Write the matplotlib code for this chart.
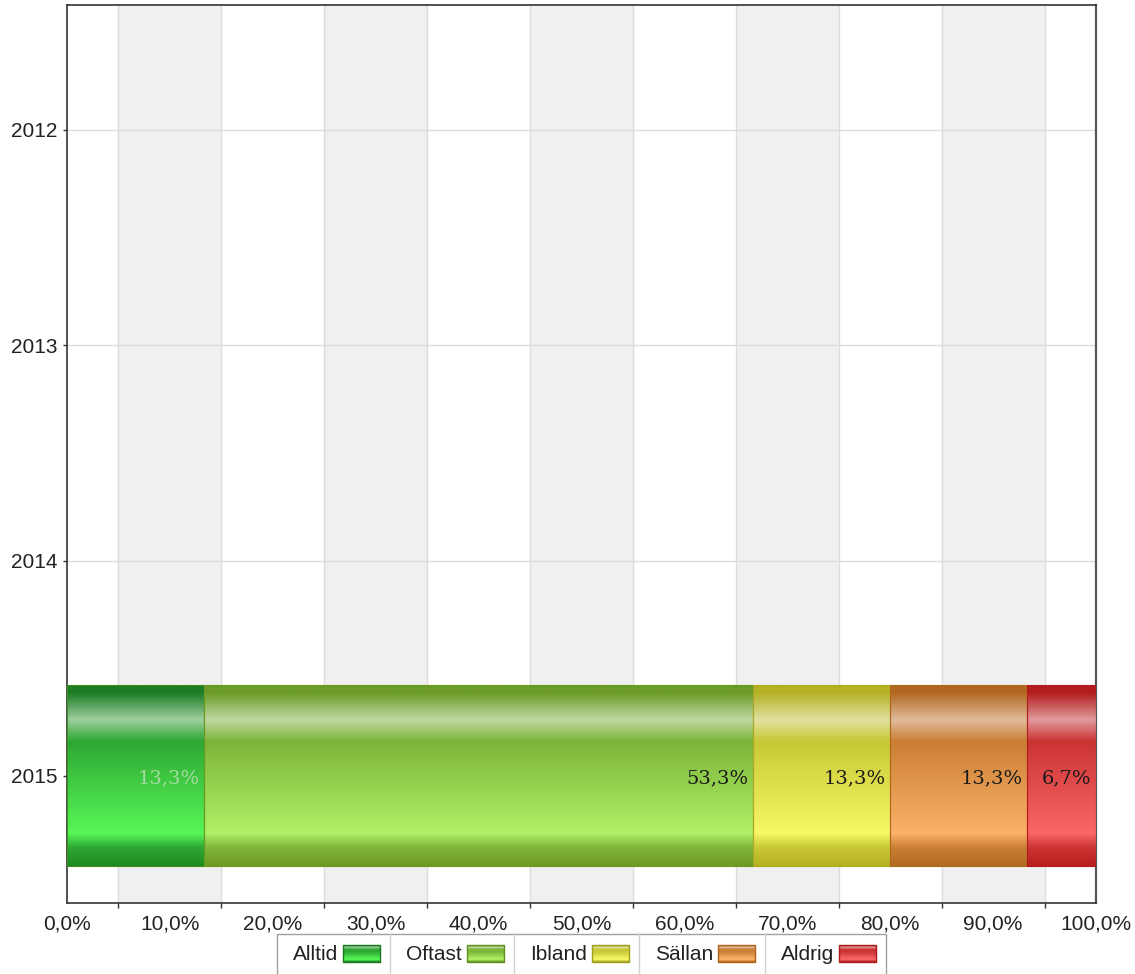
import numpy as np
import matplotlib
matplotlib.use("Agg")
import matplotlib.pyplot as plt
from matplotlib.colors import to_rgb
from matplotlib.patches import Rectangle

plt.rcParams['font.family'] = ['Liberation Sans', 'DejaVu Sans']

# data
years = ['2012', '2013', '2014', '2015']
categories = ['Alltid', 'Oftast', 'Ibland', 'Sällan', 'Aldrig']
alltid = [0, 0, 0, 13.33]
oftast = [0, 0, 0, 53.33]
ibland = [0, 0, 0, 13.33]
sallan = [0, 0, 0, 13.33]
aldrig = [0, 0, 0, 6.67]
series = [alltid, oftast, ibland, sallan, aldrig]

# glossy gradient stops: top dark, highlight, base, bright, bottom dark
shades = [
    ['#1c7a24', '#a6d1a6', '#2ea833', '#5afc5a', '#1e8a22'],
    ['#6a9a28', '#c6dba8', '#7db53a', '#b3f56a', '#6e9a22'],
    ['#b3b024', '#e3e3a8', '#c9c836', '#fbfb6a', '#b3b022'],
    ['#b0661e', '#e2c0a2', '#cc7f34', '#feb66c', '#b06a22'],
    ['#b21c1c', '#e3a0a3', '#cc3434', '#fe6a6a', '#b81e1e'],
]
edge_cols = ['#3d8f1a', '#6a9a20', '#b0a820', '#b0661e', '#b21c1c']
label_cols = ['#a6dca0', '#1a1a1a', '#1a1a1a', '#1a1a1a', '#1a1a1a']
swatch_edge = ['#177a1f', '#5e8f1f', '#9e9e1a', '#b0621a', '#a81a1a']


def gradient(cols, pos, n=200):
    t = np.linspace(0, 1, n)
    rgb = np.array([to_rgb(c) for c in cols])
    g = np.stack([np.interp(t, pos, rgb[:, k]) for k in range(3)], axis=1)
    return g[:, None, :]


bar_pos = [0.0, 0.04, 0.19, 0.31, 0.82, 0.9, 1.0]

W, H = 1135, 974
fig = plt.figure(figsize=(W / 100, H / 100), dpi=100)
ax = fig.add_axes([67 / W, (H - 903) / H, 1029 / W, 898 / H])

# alternating bands between minor gridlines
for s in range(5, 100, 20):
    ax.axvspan(s, s + 10, color='#f0f0f0', lw=0, zorder=0)

ypos = np.arange(len(years))
h = 0.84
left = np.zeros(len(years))
for i, vals in enumerate(series):
    vals = np.array(vals, dtype=float)
    c = shades[i]
    has = vals > 0
    bars = ax.barh(ypos[has], vals[has], left=left[has], height=h, color=c[2], lw=0, zorder=2)
    for b in bars:
        x0, y0 = b.get_x(), b.get_y()
        img = ax.imshow(gradient([c[0], c[0], c[1], c[2], c[3], c[2], c[4]], bar_pos),
                        extent=[x0, x0 + b.get_width(), y0 + h, y0],
                        aspect='auto', interpolation='bilinear', zorder=3, alpha=0.95)
        img.set_clip_path(b)
    ax.barh(ypos[has], vals[has], left=left[has], height=h, fill=False,
            edgecolor=edge_cols[i], lw=0.8, zorder=4)
    for y, l, v in zip(ypos[has], left[has], vals[has]):
        ax.annotate(f"{v:.1f}%".replace('.', ','), (l + v, y), xytext=(-3, -1.5),
                    textcoords='offset points', ha='right', va='center',
                    fontsize=14, family='DejaVu Serif', color=label_cols[i], zorder=5)
    left = left + vals

ax.set_xlim(0, 100)
ax.set_ylim(3.59, -0.58)
ax.set_xticks(np.arange(0, 101, 10))
ax.set_xticklabels([f"{v:.1f}%".replace('.', ',') for v in np.arange(0, 101, 10)])
ax.set_xticks(np.arange(5, 100, 10), minor=True)
ax.set_yticks(ypos)
ax.set_yticklabels(years)
ax.tick_params(axis='x', which='major', length=0, pad=8, labelsize=15, labelcolor='#222222')
ax.tick_params(axis='x', which='minor', length=3.6, width=1, color='#333333', direction='out')
ax.tick_params(axis='y', length=3, width=1, color='#333333', pad=4, labelsize=15,
               labelcolor='#222222')
ax.grid(axis='x', which='minor', color='#dcdcdc', lw=1, zorder=1)
ax.grid(axis='y', which='major', color='#dcdcdc', lw=1, zorder=1)
ax.set_axisbelow(True)
for side in ['left', 'top', 'bottom']:
    ax.spines[side].set_color('#333333')
    ax.spines[side].set_linewidth(1.2)
ax.spines['right'].set_color('#555555')
ax.spines['right'].set_linewidth(1.6)

# legend, drawn in pixel coordinates
lax = fig.add_axes([0, 0, 1, 1], zorder=10)
lax.set_xlim(0, W)
lax.set_ylim(H, 0)
lax.axis('off')
renderer = fig.canvas.get_renderer()
texts, widths = [], []
for name in categories:
    t = lax.text(0, 955, name, fontsize=15, va='center', ha='left', color='#222222', zorder=5)
    texts.append(t)
    widths.append(16 + t.get_window_extent(renderer).width + 5 + 37 + 10)
total = sum(widths)
x0 = (67 + 1096) / 2 - total / 2
lax.add_patch(Rectangle((x0, 934), total, 60, facecolor='white', edgecolor='#a0a0a0',
                        lw=1, zorder=1))
x = x0
sw_pos = [0.0, 0.12, 0.25, 0.4, 0.85, 1.0]
for i, t in enumerate(texts):
    t.set_x(x + 16)
    sx = x + widths[i] - 10 - 37
    c = shades[i]
    lax.imshow(gradient([swatch_edge[i], c[1], c[2], c[2], c[3], swatch_edge[i]], sw_pos),
               extent=[sx, sx + 37, 962, 945], aspect='auto', interpolation='bilinear',
               zorder=3)
    lax.add_patch(Rectangle((sx, 945), 37, 17, fill=False, edgecolor=swatch_edge[i],
                            lw=1, zorder=4))
    x += widths[i]
    if i < len(texts) - 1:
        lax.plot([x, x], [934, 980], color='#d0d0d0', lw=1, zorder=2)
lax.set_xlim(0, W)
lax.set_ylim(H, 0)

fig.savefig('out.png', dpi=100)
